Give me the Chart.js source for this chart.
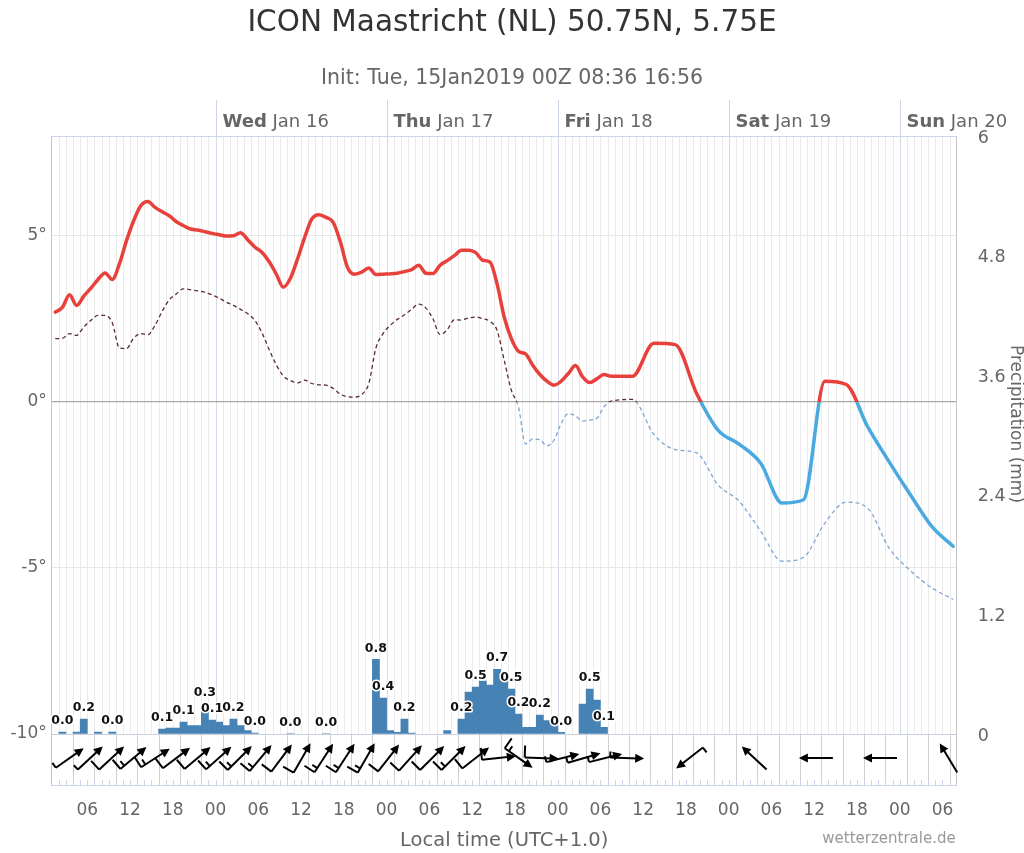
<!DOCTYPE html>
<html><head><meta charset="utf-8">
<script src="https://cdn.jsdelivr.net/npm/chart.js@4.4.1/dist/chart.umd.min.js"></script>
<style>html,body{margin:0;padding:0;background:#fff;}canvas{display:block;}</style>
</head><body>
<canvas id="c" width="1024" height="853" style="width:1024px;height:853px"></canvas>
<script>
// hours since Tue 15 Jan 00:00 local time
const hours = [1.5,2.5,3.5,4.5,5.5,6.5,7.5,8.5,9.5,10.5,11.5,12.5,13.5,14.5,15.5,16.5,17.5,18.5,19.5,20.5,
  21.5,22.5,23.5,24.5,25.5,26.5,27.5,28.5,29.5,30.5,31.5,32.5,33.5,34.5,35.5,36.5,37.5,38.5,39.5,40.5,
  41.5,42.5,43.5,44.5,45.5,46.5,47.5,48.5,49.5,50.5,51.5,52.5,53.5,54.5,55.5,56.5,57.5,58.5,59.5,60.5,
  61.5,62.5,63.5,64.5,65.5,66.5,67.5,68.5,69.5,70.5,71.5,72.5,73.5,74.5,75.5,76.5,77.5,78.5,79.5,
  82.5,85.5,88.5,91.5,94.5,97.5,100.5,103.5,106.5,109.5,112.5,115.5,118.5,121.5,124.5,127.5];
const temperature = [2.70,2.84,3.22,2.90,3.18,3.42,3.68,3.88,3.68,4.15,4.85,5.45,5.90,6.03,5.85,5.72,5.60,5.42,5.30,5.20,
  5.17,5.12,5.07,5.03,4.99,5.00,5.09,4.88,4.66,4.50,4.22,3.85,3.45,3.72,4.30,4.95,5.50,5.63,5.55,5.40,
  4.82,4.05,3.84,3.90,4.03,3.83,3.84,3.85,3.87,3.92,3.98,4.11,3.87,3.86,4.11,4.25,4.40,4.56,4.56,4.49,
  4.26,4.21,3.55,2.55,1.90,1.52,1.44,1.10,0.82,0.62,0.50,0.62,0.85,1.09,0.75,0.58,0.69,0.82,0.77,
  0.77,1.76,1.72,0.25,-0.85,-1.28,-1.85,-3.05,-2.95,0.62,0.52,-0.75,-1.80,-2.80,-3.75,-4.35];
const dewpoint = [1.90,1.91,2.05,2.00,2.25,2.45,2.60,2.60,2.38,1.62,1.60,1.92,2.05,2.02,2.30,2.72,3.07,3.25,3.40,3.37,
  3.34,3.30,3.22,3.12,3.00,2.90,2.78,2.65,2.45,2.08,1.58,1.12,0.78,0.64,0.57,0.65,0.55,0.51,0.50,0.40,
  0.23,0.15,0.14,0.22,0.55,1.62,2.05,2.30,2.48,2.62,2.78,2.94,2.82,2.50,2.02,2.17,2.47,2.46,2.52,2.55,
  2.50,2.42,2.15,1.25,0.35,-0.15,-1.27,-1.12,-1.14,-1.33,-1.15,-0.65,-0.36,-0.42,-0.58,-0.55,-0.50,-0.15,0.02,
  0.07,-0.98,-1.44,-1.54,-2.50,-3.00,-3.90,-4.80,-4.68,-3.65,-3.02,-3.20,-4.40,-5.08,-5.60,-5.95];
const precip = [null,0.02,null,0.02,0.15,null,0.02,null,0.02,null,null,null,null,null,null,0.05,0.06,0.06,0.12,0.085,
  0.085,0.30,0.14,0.12,0.085,0.15,0.085,0.035,0.01,null,null,null,null,0.005,null,null,null,null,0.005,null,
  null,null,null,null,null,0.75,0.36,0.035,0.017,0.15,0.01,null,null,null,null,0.035,null,0.15,0.42,0.47,
  0.53,0.49,0.65,0.60,0.45,0.20,0.067,0.067,0.19,0.135,0.09,0.017,null,null,0.30,0.45,0.34,0.067,null,
  null,null,null,null,null,null,null,null,null,null,null,null,null,null,null,null];
const precipLabelHours = [2.5,5.5,9.5,16.5,19.5,22.5,23.5,26.5,29.5,34.5,39.5,46.5,47.5,50.5,58.5,60.5,63.5,65.5,66.5,69.5,72.5,76.5,78.5];
// wind: direction the wind comes from (deg), speed (kt)
const windHours = [2.5,5.5,8.5,11.5,14.5,17.5,20.5,23.5,26.5,29.5,32.5,35.5,38.5,41.5,44.5,47.5,50.5,53.5,56.5,59.5,
  62.5,65.5,68.5,71.5,74.5,77.5,80.5,91.5,100.5,109.5,118.5,127.5];
const windDir = [235,227,227,230,237,233,230,228,225,220,217,210,213,213,210,218,222,225,225,232,
  264,305,272,256,254,256,272,52,133,90,90,149];
const windSpeed = [5,5,10,15,15,10,10,15,15,15,10,10,15,15,15,10,10,10,15,10,
  10,15,10,5,5,5,5,5,2,2,2,2];
const dayHours = [24,48,72,96,120];
const dayNames = ['Wed','Thu','Fri','Sat','Sun'];
const dayDates = ['Jan 16','Jan 17','Jan 18','Jan 19','Jan 20'];
const hourTicks = [6,12,18,24,30,36,42,48,54,60,66,72,78,84,90,96,102,108,114,120,126];
const tempTicks = [-10,-5,0,5];
const precipTicks = [0,1.2,2.4,3.6,4.8,6];

const FONT = '"DejaVu Sans", Verdana, sans-serif';
Chart.defaults.font.family = FONT;
Chart.defaults.color = '#666';

function zoneColor(above, below) {
  return function(ctx) {
    const chart = ctx.chart, area = chart.chartArea;
    if (!area) return above;
    const y0 = chart.scales.yT.getPixelForValue(0);
    const g = chart.ctx.createLinearGradient(0, area.top, 0, area.bottom);
    let f = (y0 - area.top) / (area.bottom - area.top);
    f = Math.max(0, Math.min(1, f));
    g.addColorStop(0, above); g.addColorStop(f, above);
    g.addColorStop(f, below); g.addColorStop(1, below);
    return g;
  };
}

const tempData = hours.map((h, i) => ({x: h, y: temperature[i]}));
const dewData = hours.map((h, i) => ({x: h, y: dewpoint[i]}));
const barData = hours.map((h, i) => ({x: h, y: precip[i]})).filter(p => p.y !== null);

const bgPlugin = {
  id: 'bgGrid',
  beforeDraw(chart) {
    const {ctx, chartArea: a, scales} = chart;
    const x = scales.x, yT = scales.yT;
    ctx.save();
    ctx.fillStyle = '#fff';
    ctx.fillRect(0, 0, chart.width, chart.height);
    const yM = yT.getPixelForValue(-10);
    ctx.lineWidth = 1;
    // hourly light lines in plot
    ctx.strokeStyle = '#ebebeb';
    for (let h = 2; h < 128; h++) {
      if (h % 24 === 0) continue;
      const px = Math.round(x.getPixelForValue(h)) + 0.5;
      ctx.beginPath(); ctx.moveTo(px, a.top); ctx.lineTo(px, yM); ctx.stroke();
    }
    // day lines
    ctx.strokeStyle = '#d3dae8';
    dayHours.forEach(h => {
      const px = Math.round(x.getPixelForValue(h)) + 0.5;
      ctx.beginPath(); ctx.moveTo(px, a.top); ctx.lineTo(px, yM); ctx.stroke();
    });
    // wind strip 3-hourly lines
    ctx.strokeStyle = '#cfcfcf';
    for (let h = 4; h < 128; h += 3) {
      const px = Math.round(x.getPixelForValue(h)) + 0.5;
      ctx.beginPath(); ctx.moveTo(px, yM); ctx.lineTo(px, a.bottom); ctx.stroke();
    }
    // small hourly ticks at bottom
    ctx.strokeStyle = '#ccd6eb';
    for (let h = 2; h < 128; h++) {
      const px = Math.round(x.getPixelForValue(h)) + 0.5;
      ctx.beginPath(); ctx.moveTo(px, a.bottom - 5); ctx.lineTo(px, a.bottom); ctx.stroke();
    }
    ctx.restore();
  },
  afterDatasetsDraw(chart) {
    const {ctx, chartArea: a, scales} = chart;
    const x = scales.x, yT = scales.yT;
    // precipitation labels
    const meta = chart.getDatasetMeta(2);
    ctx.save();
    ctx.font = 'bold 12.5px ' + FONT;
    ctx.textAlign = 'center'; ctx.textBaseline = 'middle';
    ctx.lineJoin = 'round';
    barData.forEach((p, j) => {
      if (!precipLabelHours.includes(p.x)) return;
      const el = meta.data[j];
      const txt = (Math.round(p.y * 10) / 10).toFixed(1);
      const ty = Math.min(el.y, el.base) - 11;
      ctx.strokeStyle = '#fff'; ctx.lineWidth = 3;
      ctx.strokeText(txt, el.x, ty);
      ctx.fillStyle = '#111';
      ctx.fillText(txt, el.x, ty);
    });
    ctx.restore();
    // wind arrows
    const yM = yT.getPixelForValue(-10);
    const cy = (yM + a.bottom) / 2 - 1.5;
    ctx.save();
    ctx.strokeStyle = '#000'; ctx.fillStyle = '#000';
    ctx.lineWidth = 2; ctx.lineCap = 'butt'; ctx.lineJoin = 'miter';
    windHours.forEach((h, i) => {
      const tw = (windDir[i] + 180) * Math.PI / 180;
      const ux = Math.sin(tw), uy = -Math.cos(tw);
      const px = uy, py = -ux;
      const cx = x.getPixelForValue(h) + 9 * ux;
      const half = 17;
      const tx = cx - half * ux, ty = cy - half * uy;
      const hx = cx + half * ux, hy = cy + half * uy;
      ctx.beginPath(); ctx.moveTo(tx, ty); ctx.lineTo(hx - 6 * ux, hy - 6 * uy); ctx.stroke();
      ctx.beginPath();
      ctx.moveTo(hx, hy);
      ctx.lineTo(hx - 9 * ux + 4.5 * px, hy - 9 * uy + 4.5 * py);
      ctx.lineTo(hx - 9 * ux - 4.5 * px, hy - 9 * uy - 4.5 * py);
      ctx.closePath(); ctx.fill();
      const full = Math.floor(windSpeed[i] / 10);
      const halfF = (windSpeed[i] % 10) >= 5;
      let pos = 0;
      ctx.beginPath();
      for (let k = 0; k < full; k++) {
        const bx = tx + pos * ux, by = ty + pos * uy;
        ctx.moveTo(bx, by); ctx.lineTo(bx + 12 * px, by + 12 * py);
        pos += 5;
      }
      if (halfF) {
        const bx = tx + pos * ux, by = ty + pos * uy;
        ctx.moveTo(bx, by); ctx.lineTo(bx + 6 * px, by + 6 * py);
      }
      ctx.stroke();
    });
    ctx.restore();
  },
  afterDraw(chart) {
    const {ctx, chartArea: a, scales} = chart;
    const x = scales.x;
    ctx.save();
    ctx.strokeStyle = '#ccd6eb'; ctx.lineWidth = 1;
    ctx.beginPath(); ctx.moveTo(a.left, a.top + 0.5); ctx.lineTo(a.right, a.top + 0.5); ctx.stroke();
    ctx.textBaseline = 'middle'; ctx.textAlign = 'left'; ctx.fillStyle = '#666';
    dayHours.forEach((h, i) => {
      const px = Math.round(x.getPixelForValue(h)) + 0.5;
      ctx.beginPath(); ctx.moveTo(px, a.top - 36); ctx.lineTo(px, a.top); ctx.stroke();
      ctx.font = 'bold 18px ' + FONT;
      const w = ctx.measureText(dayNames[i]).width;
      ctx.fillText(dayNames[i], px + 6, a.top - 14);
      ctx.font = '18px ' + FONT;
      ctx.fillText(' ' + dayDates[i], px + 6 + w, a.top - 14);
    });
    // precipitation axis title
    ctx.save();
    ctx.translate(1015.5, 424);
    ctx.rotate(Math.PI / 2);
    ctx.textAlign = 'center';
    ctx.font = '17px ' + FONT;
    ctx.fillStyle = '#666';
    ctx.fillText('Precipitation (mm)', 0, 0);
    ctx.restore();
    // credits
    ctx.textAlign = 'right'; ctx.fillStyle = '#999';
    ctx.font = '15px ' + FONT;
    ctx.fillText('wetterzentrale.de', a.right - 1, 839);
    ctx.restore();
  }
};

new Chart(document.getElementById('c'), {
  type: 'line',
  data: {
    datasets: [
      {label: 'Temperature', data: tempData, yAxisID: 'yT', borderWidth: 3.5,
       borderColor: zoneColor('#e8413c', '#4aaae0'), pointRadius: 0,
       cubicInterpolationMode: 'monotone', order: 1, borderCapStyle: 'round', borderJoinStyle: 'round'},
      {label: 'Dew point', data: dewData, yAxisID: 'yT', borderWidth: 1.3, borderDash: [4, 3],
       borderColor: zoneColor('#5b2b2b', '#7fa5cf'), pointRadius: 0,
       cubicInterpolationMode: 'monotone', order: 2},
      {type: 'bar', label: 'Precipitation', data: barData, yAxisID: 'yP',
       backgroundColor: '#4682b4', borderWidth: 0, barPercentage: 1, categoryPercentage: 1, order: 3}
    ]
  },
  options: {
    responsive: false,
    animation: false,
    events: [],
    layout: {padding: 0},
    plugins: {
      legend: {display: false},
      tooltip: {enabled: false},
      title: {display: true, text: 'ICON Maastricht (NL) 50.75N, 5.75E', color: '#333',
              font: {size: 29.5, weight: 'normal'}, padding: {top: 5.3, bottom: 0}},
      subtitle: {display: true, text: 'Init: Tue, 15Jan2019 00Z 08:36 16:56', color: '#666',
              font: {size: 20.5}, padding: {top: 26, bottom: 44.7}}
    },
    scales: {
      x: {
        type: 'linear', min: 1, max: 128, offset: false, position: 'bottom',
        afterBuildTicks: s => { s.ticks = hourTicks.map(v => ({value: v})); },
        afterFit: s => { s.height = 68; },
        ticks: {autoSkip: false, maxRotation: 0, minRotation: 0, padding: 15, color: '#666',
                font: {size: 17}, callback: v => String(v % 24).padStart(2, '0')},
        grid: {display: true, drawOnChartArea: false, drawTicks: false},
        border: {display: true, color: '#ccd6eb'},
        title: {display: true, text: 'Local time (UTC+1.0)', color: '#666', font: {size: 19.5},
                padding: {top: 0, bottom: 0}}
      },
      yT: {
        type: 'linear', position: 'left', min: -11.535, max: 8,
        afterBuildTicks: s => { s.ticks = tempTicks.map(v => ({value: v})); },
        afterFit: s => { s.width = 51.7; },
        ticks: {color: '#666', font: {size: 17}, padding: 5, callback: v => v + '°'},
        grid: {drawTicks: false,
               color: c => c.tick && c.tick.value === 0 ? '#a8a8a8' : (c.tick && c.tick.value === -10 ? '#c8d0e0' : '#e6e6e6'),
               lineWidth: c => c.tick && c.tick.value === 0 ? 1.3 : 1},
        border: {display: true, color: '#c6c6c6'}
      },
      yP: {
        type: 'linear', position: 'right', min: -0.5117, max: 6,
        afterBuildTicks: s => { s.ticks = precipTicks.map(v => ({value: v})); },
        afterFit: s => { s.width = 67.3; },
        ticks: {color: '#666', font: {size: 17.5}, padding: 21, labelOffset: 2, callback: v => String(v)},
        grid: {drawOnChartArea: false, drawTicks: false},
        border: {display: true, color: '#c6c6c6'}
      }
    }
  },
  plugins: [bgPlugin]
});
</script>
</body></html>
